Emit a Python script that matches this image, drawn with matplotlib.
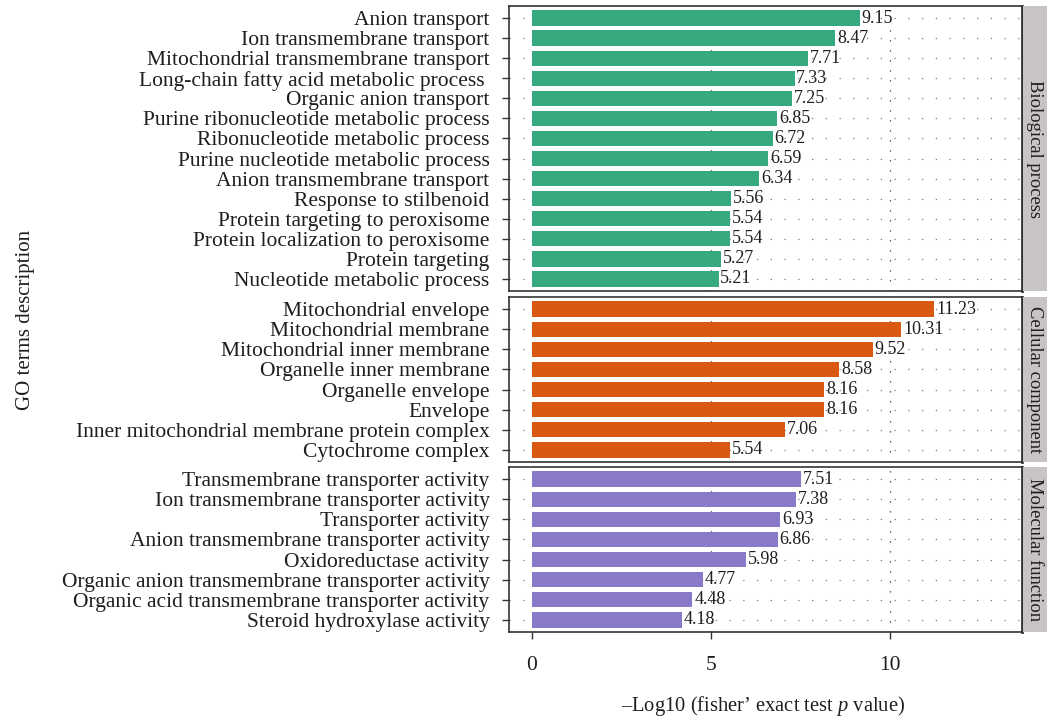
import matplotlib
matplotlib.use('Agg')
from matplotlib import pyplot as plt

plt.rcParams['font.family'] = 'Liberation Serif'
plt.rcParams['mathtext.fontset'] = 'custom'
plt.rcParams['mathtext.rm'] = 'Liberation Serif'
plt.rcParams['mathtext.it'] = 'Liberation Serif:italic'

# GO enrichment, one facet per ontology
bp_terms = ['Anion transport', 'Ion transmembrane transport',
            'Mitochondrial transmembrane transport',
            'Long-chain fatty acid metabolic process ',
            'Organic anion transport', 'Purine ribonucleotide metabolic process',
            'Ribonucleotide metabolic process', 'Purine nucleotide metabolic process',
            'Anion transmembrane transport', 'Response to stilbenoid',
            'Protein targeting to peroxisome', 'Protein localization to peroxisome',
            'Protein targeting', 'Nucleotide metabolic process']
bp_vals = [9.15, 8.47, 7.71, 7.33, 7.25, 6.85, 6.72, 6.59, 6.34, 5.56, 5.54, 5.54, 5.27, 5.21]

cc_terms = ['Mitochondrial envelope', 'Mitochondrial membrane',
            'Mitochondrial inner membrane', 'Organelle inner membrane',
            'Organelle envelope', 'Envelope',
            'Inner mitochondrial membrane protein complex', 'Cytochrome complex']
cc_vals = [11.23, 10.31, 9.52, 8.58, 8.16, 8.16, 7.06, 5.54]

mf_terms = ['Transmembrane transporter activity', 'Ion transmembrane transporter activity',
            'Transporter activity', 'Anion transmembrane transporter activity',
            'Oxidoreductase activity', 'Organic anion transmembrane transporter activity',
            'Organic acid transmembrane transporter activity', 'Steroid hydroxylase activity']
mf_vals = [7.51, 7.38, 6.93, 6.86, 5.98, 4.77, 4.48, 4.18]

groups = ['Biological process', 'Cellular component', 'Molecular function']
colors = ['#37a97f', '#d8590f', '#8a78c8']

panels = [(bp_terms, bp_vals), (cc_terms, cc_vals), (mf_terms, mf_vals)]

W, H = 1048, 718
fig = plt.figure(figsize=(W / 100, H / 100), dpi=100)

# panel extents in pixels (top, bottom)
rows = [(6, 291), (297, 462), (467, 632)]
x0, x1 = 509, 1022
ink = '#1e1e1e'

for i, ((terms, vals), (top, bot)) in enumerate(zip(panels, rows)):
    ax = fig.add_axes([x0 / W, 1 - bot / H, (x1 - x0) / W, (bot - top) / H])
    n = len(terms)
    y = list(range(n))
    for yy in y:
        ax.axhline(yy, color='#7a7a7a', lw=0.9, ls=(0, (1, 10)), zorder=0)
    for xv in (5, 10):
        ax.axvline(xv, color='#333333', lw=0.9, ls=(0, (1, 7)), zorder=0)
    ax.barh(y, vals, height=0.76, color=colors[i], zorder=2)
    for yy, v in zip(y, vals):
        ax.text(v + 0.05, yy, '%.2f' % v, va='center', ha='left', fontsize=13,
                color=ink, zorder=3)
    ax.set_ylim(n - 0.4, -0.6)
    ax.set_xlim(-0.64, 13.68)
    ax.set_yticks(y)
    ax.set_yticklabels(terms, fontsize=15.5, color=ink)
    ax.set_xticks([0, 5, 10])
    ax.tick_params(axis='y', length=5, width=1, color='#333333', pad=9)
    ax.tick_params(axis='x', length=5, width=1, color='#333333', pad=12,
                   labelsize=15.5, labelcolor=ink)
    if i < 2:
        ax.tick_params(axis='x', bottom=False, labelbottom=False)
    for s in ax.spines.values():
        s.set_color('#333333')
        s.set_linewidth(1.2)
    ax.spines['right'].set_linewidth(2.0)

    # facet strip
    sx = fig.add_axes([(x1 + 1) / W, 1 - bot / H, (W - x1 - 2) / W, (bot - top) / H])
    sx.set_facecolor('#c8c4c3')
    sx.set_xticks([])
    sx.set_yticks([])
    for s in sx.spines.values():
        s.set_visible(False)
    sx.text(0.5, 0.5, groups[i], rotation=270, ha='center', va='center',
            fontsize=13.3, color=ink, transform=sx.transAxes)

fig.text(763 / W, 1 - 706 / H, '\u2013Log10 (fisher\u2019 exact test $\\mathit{p}$ value)',
         ha='center', va='center', fontsize=14.8, color=ink)
fig.text(26 / W, 1 - 320 / H, 'GO terms description', rotation=90,
         ha='center', va='center', fontsize=15, color=ink)

plt.savefig('out.png', dpi=100)
